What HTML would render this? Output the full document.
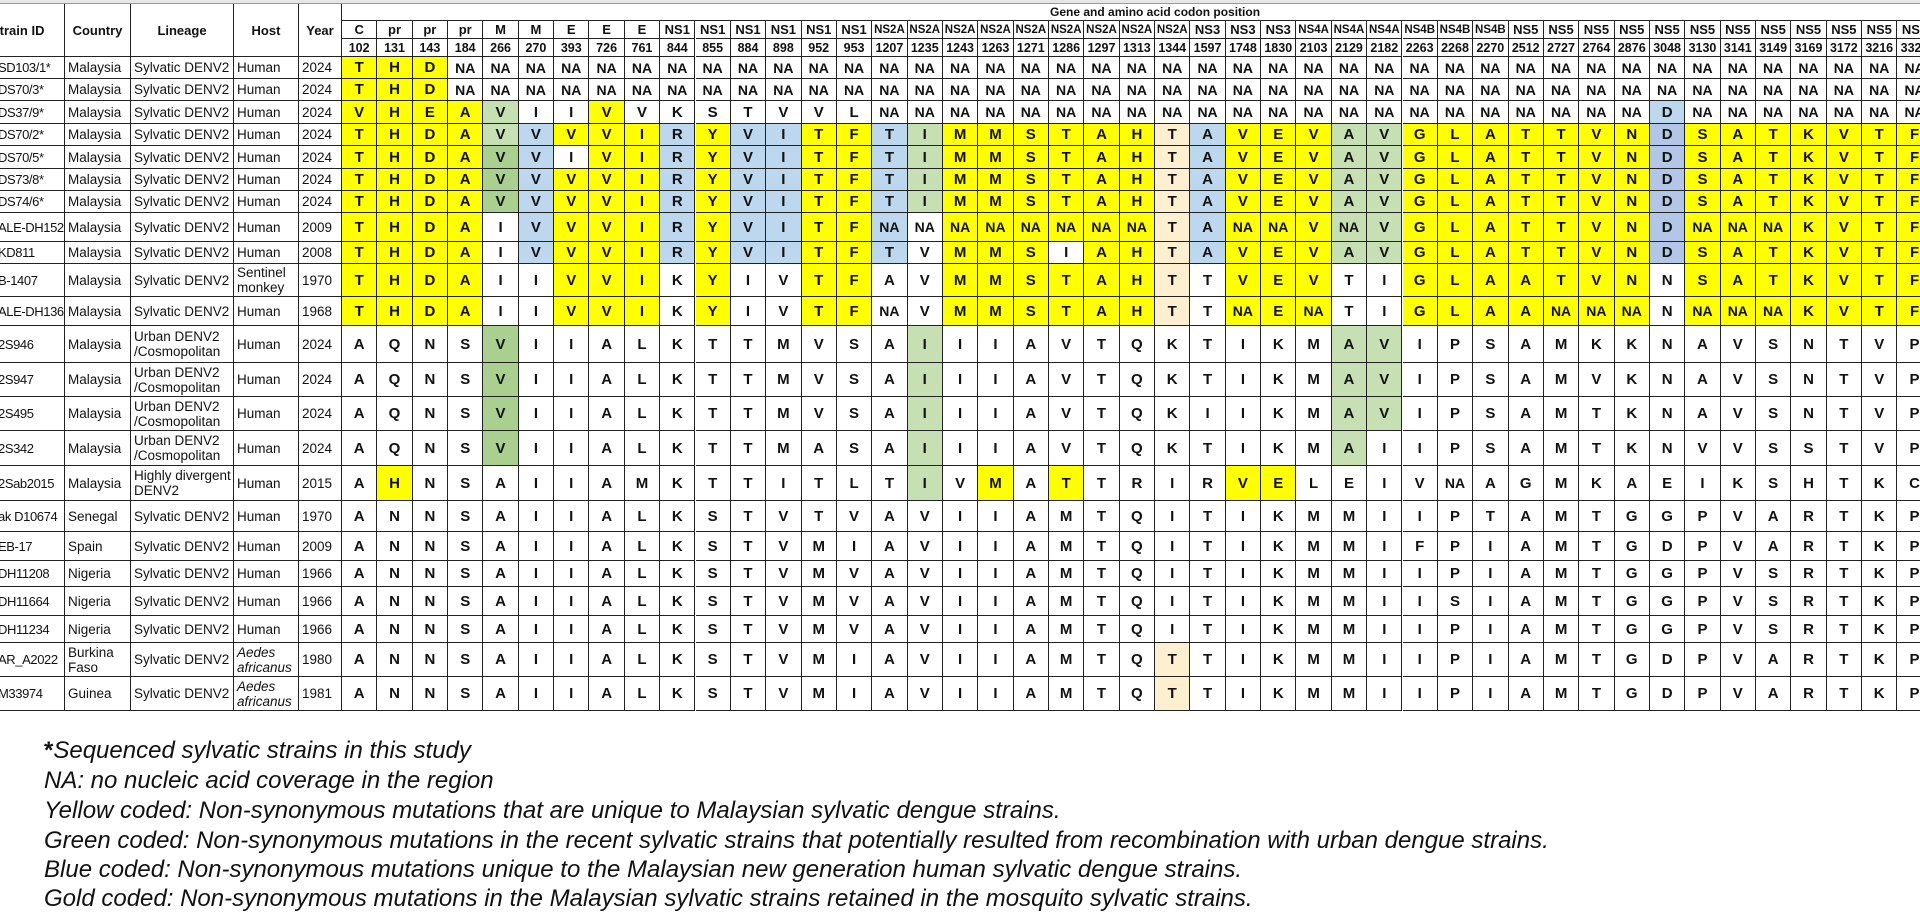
<!DOCTYPE html>
<html><head><meta charset="utf-8">
<style>
html,body{margin:0;padding:0;background:#fff;width:1920px;height:913px;overflow:hidden;position:relative;font-family:"Liberation Sans",sans-serif;}
.c{position:absolute;box-sizing:border-box;border-right:1px solid #222;border-bottom:1px solid #222;display:flex;align-items:center;overflow:hidden;white-space:nowrap;color:#111;}
.aa{justify-content:center;font-weight:bold;font-size:15px;}
.tx{font-size:13.5px;padding-left:3px;line-height:15px;white-space:normal;}
.hd{justify-content:center;font-weight:bold;font-size:13px;}
.note{position:absolute;left:44px;font-style:italic;font-size:24px;color:#111;white-space:nowrap;}
</style></head><body>
<div id="table"></div>
<div id="gray-top" style="position:absolute;left:0;top:0;width:1920px;height:3px;background:#e6e6e6;"></div>
<div class="note" style="top:737px;"><span style="font-style:normal;font-weight:bold">*</span>Sequenced sylvatic strains in this study</div>
<div class="note" style="top:767px;">NA: no nucleic acid coverage in the region</div>
<div class="note" style="top:797px;">Yellow coded: Non-synonymous mutations that are unique to Malaysian sylvatic dengue strains.</div>
<div class="note" style="top:827px;">Green coded: Non-synonymous mutations in the recent sylvatic strains that potentially resulted from recombination with urban dengue strains.</div>
<div class="note" style="top:856px;">Blue coded: Non-synonymous mutations unique to the Malaysian new generation human sylvatic dengue strains.</div>
<div class="note" style="top:885px;">Gold coded: Non-synonymous mutations in the Malaysian sylvatic strains retained in the mosquito sylvatic strains.</div>
<script>
const genes=["C","pr","pr","pr","M","M","E","E","E","NS1","NS1","NS1","NS1","NS1","NS1","NS2A","NS2A","NS2A","NS2A","NS2A","NS2A","NS2A","NS2A","NS2A","NS3","NS3","NS3","NS4A","NS4A","NS4A","NS4B","NS4B","NS4B","NS5","NS5","NS5","NS5","NS5","NS5","NS5","NS5","NS5","NS5","NS5","NS5"];
const positions=["102","131","143","184","266","270","393","726","761","844","855","884","898","952","953","1207","1235","1243","1263","1271","1286","1297","1313","1344","1597","1748","1830","2103","2129","2182","2263","2268","2270","2512","2727","2764","2876","3048","3130","3141","3149","3169","3172","3216","3321"];
const strains=["SD103/1*","DS70/3*","DS37/9*","DS70/2*","DS70/5*","DS73/8*","DS74/6*","ALE-DH152","KD811","B-1407","ALE-DH136","2S946","2S947","2S495","2S342","2Sab2015","ak D10674","EB-17","DH11208","DH11664","DH11234","AR_A2022","M33974"];
const countries=["Malaysia","Malaysia","Malaysia","Malaysia","Malaysia","Malaysia","Malaysia","Malaysia","Malaysia","Malaysia","Malaysia","Malaysia","Malaysia","Malaysia","Malaysia","Malaysia","Senegal","Spain","Nigeria","Nigeria","Nigeria","Burkina Faso","Guinea"];
const lineages=["Sylvatic DENV2","Sylvatic DENV2","Sylvatic DENV2","Sylvatic DENV2","Sylvatic DENV2","Sylvatic DENV2","Sylvatic DENV2","Sylvatic DENV2","Sylvatic DENV2","Sylvatic DENV2","Sylvatic DENV2","Urban DENV2 /Cosmopolitan","Urban DENV2 /Cosmopolitan","Urban DENV2 /Cosmopolitan","Urban DENV2 /Cosmopolitan","Highly divergent DENV2","Sylvatic DENV2","Sylvatic DENV2","Sylvatic DENV2","Sylvatic DENV2","Sylvatic DENV2","Sylvatic DENV2","Sylvatic DENV2"];
const hosts=["Human","Human","Human","Human","Human","Human","Human","Human","Human","Sentinel monkey","Human","Human","Human","Human","Human","Human","Human","Human","Human","Human","Human","Aedes africanus","Aedes africanus"];
const years=["2024","2024","2024","2024","2024","2024","2024","2009","2008","1970","1968","2024","2024","2024","2024","2015","1970","2009","1966","1966","1966","1980","1981"];
const NA42=Array(42).fill("NA").join(" ");
const residues=[
"T H D "+NA42,
"T H D "+NA42,
"V H E A V I I V V K S T V V L "+Array(22).fill("NA").join(" ")+" D NA NA NA NA NA NA NA",
"T H D A V V V V I R Y V I T F T I M M S T A H T A V E V A V G L A T T V N D S A T K V T F",
"T H D A V V I V I R Y V I T F T I M M S T A H T A V E V A V G L A T T V N D S A T K V T F",
"T H D A V V V V I R Y V I T F T I M M S T A H T A V E V A V G L A T T V N D S A T K V T F",
"T H D A V V V V I R Y V I T F T I M M S T A H T A V E V A V G L A T T V N D S A T K V T F",
"T H D A I V V V I R Y V I T F NA NA NA NA NA NA NA NA T A NA NA V NA V G L A T T V N D NA NA NA K V T F",
"T H D A I V V V I R Y V I T F T V M M S I A H T A V E V A V G L A T T V N D S A T K V T F",
"T H D A I I V V I K Y I V T F A V M M S T A H T T V E V T I G L A A T V N N S A T K V T F",
"T H D A I I V V I K Y I V T F NA V M M S T A H T T NA E NA T I G L A A NA NA NA N NA NA NA K V T F",
"A Q N S V I I A L K T T M V S A I I I A V T Q K T I K M A V I P S A M K K N A V S N T V P",
"A Q N S V I I A L K T T M V S A I I I A V T Q K T I K M A V I P S A M V K N A V S N T V P",
"A Q N S V I I A L K T T M V S A I I I A V T Q K I I K M A V I P S A M T K N A V S N T V P",
"A Q N S V I I A L K T T M A S A I I I A V T Q K T I K M A I I P S A M T K N V V S S T V P",
"A H N S A I I A M K T T I T L T I V M A T T R I R V E L E I V NA A G M K A E I K S H T K C",
"A N N S A I I A L K S T V T V A V I I A M T Q I T I K M M I I P T A M T G G P V A R T K P",
"A N N S A I I A L K S T V M I A V I I A M T Q I T I K M M I F P I A M T G D P V A R T K P",
"A N N S A I I A L K S T V M V A V I I A M T Q I T I K M M I I P I A M T G G P V S R T K P",
"A N N S A I I A L K S T V M V A V I I A M T Q I T I K M M I I S I A M T G G P V S R T K P",
"A N N S A I I A L K S T V M V A V I I A M T Q I T I K M M I I P I A M T G G P V S R T K P",
"A N N S A I I A L K S T V M I A V I I A M T Q T T I K M M I I P I A M T G D P V A R T K P",
"A N N S A I I A L K S T V M I A V I I A M T Q T T I K M M I I P I A M T G D P V A R T K P"];
const W45=".............................................";
const highlights=[
"YYY..........................................",
"YYY..........................................",
"YYYYg..Y.............................B.......",
"YYYYgBYYYBYBBYYBgYYYYYYOBYYYggYYYYYYYbYYYYYYY",
"YYYYGB.YYBYBBYYBgYYYYYYOBYYYggYYYYYYYbYYYYYYY",
"YYYYGBYYYBYBBYYBgYYYYYYOBYYYggYYYYYYYbYYYYYYY",
"YYYYGBYYYBYBBYYBgYYYYYYOBYYYggYYYYYYYbYYYYYYY",
"YYYY.BYYYBYBBYYB.YYYYYYOBYYYggYYYYYYYbYYYYYYY",
"YYYY.BYYYBYBBYYB.YYY.YYOBYYYggYYYYYYYbYYYYYYY",
"YYYY..YYY.Y..YY..YYYYYYO.YYY..YYYYYYY.YYYYYYY",
"YYYY..YYY.Y..YY..YYYYYYO.YYY..YYYYYYY.YYYYYYY",
"....G...........g...........gg...............",
"....G...........g...........gg...............",
"....G...........g...........gg...............",
"....G...........g...........g................",
".Y..............g.Y.Y....YY..................",
W45,W45,W45,W45,W45,
".......................O.....................",
".......................O....................."];
const colorMap={"Y":"#ffff00","B":"#bdd7ee","b":"#b4c6e7","G":"#a9d08e","g":"#c6e0b4","O":"#fdefcf",".":"#ffffff"};
const rowEdges=[57,79,101,124,146,169,191,213,242,264,297,326,363,397,431,466,501,532,561,587,616,643,677,711];
const leftEdges=[0,65,131,234,299,342];
const colW=35.35;
const T=document.getElementById('table');
function cell(x,y,w,h,cls,txt,bg){
  const d=document.createElement('div');
  d.className='c '+cls;
  d.style.left=x+'px';d.style.top=y+'px';d.style.width=w+'px';d.style.height=h+'px';
  if(bg)d.style.background=bg;
  d.textContent=txt;
  T.appendChild(d);
  return d;
}
const tl=document.createElement('div');
tl.style.cssText='position:absolute;left:0;top:3px;width:1920px;height:1px;background:#999';


T.appendChild(tl);
const hdrs=["Strain ID","Country","Lineage","Host","Year"];
const hdrNames=["strain-id-header","country-header","lineage-header","host-header","year-header"];
for(let i=0;i<5;i++){
  const d=cell(leftEdges[i],4,leftEdges[i+1]-leftEdges[i],53,'hd',hdrs[i]);
  if(i===0){d.style.justifyContent='flex-start';d.style.textIndent='-9px';}
  
  
}
const title=cell(342,4,1600,17,'hd','');
title.style.fontSize='12px';


const tt=document.createElement('span');
tt.textContent='Gene and amino acid codon position';
tt.style.cssText='position:absolute;left:708px;top:0;line-height:17px;';
title.appendChild(tt);
for(let j=0;j<genes.length;j++){
  const x=342+j*colW;
  const g=cell(x,21,colW,18,'hd',genes[j]);
  g.style.fontSize=genes[j].length>3?'11.5px':'13px';
  
  
  const p=cell(x,39,colW,18,'hd',positions[j]);
  p.style.fontSize='12.5px';
  
  
}
for(let r=0;r<strains.length;r++){
  const y=rowEdges[r],h=rowEdges[r+1]-rowEdges[r];
  const info=[strains[r],countries[r],lineages[r],hosts[r],years[r]];
  const infoNames=['strain-id','country','lineage','host','year'];
  for(let i=0;i<5;i++){
    const d=cell(leftEdges[i],y,leftEdges[i+1]-leftEdges[i],h,'tx',info[i]);
    if(i===0){d.style.paddingLeft='0';d.style.textIndent='-2px';d.style.whiteSpace='nowrap';d.style.fontSize='13px';d.style.letterSpacing='-0.4px';}
    if(i===3&&hosts[r].indexOf('Aedes')===0)d.style.fontStyle='italic';
    
    
  }
  const vals=residues[r].split(' ');
  for(let j=0;j<genes.length;j++){
    const d=cell(342+j*colW,y,colW,h,'aa',vals[j]||'',colorMap[highlights[r][j]]);
    if((vals[j]||'').length>1)d.style.fontSize='14px';
    
    
  }
}
</script>
</body></html>
